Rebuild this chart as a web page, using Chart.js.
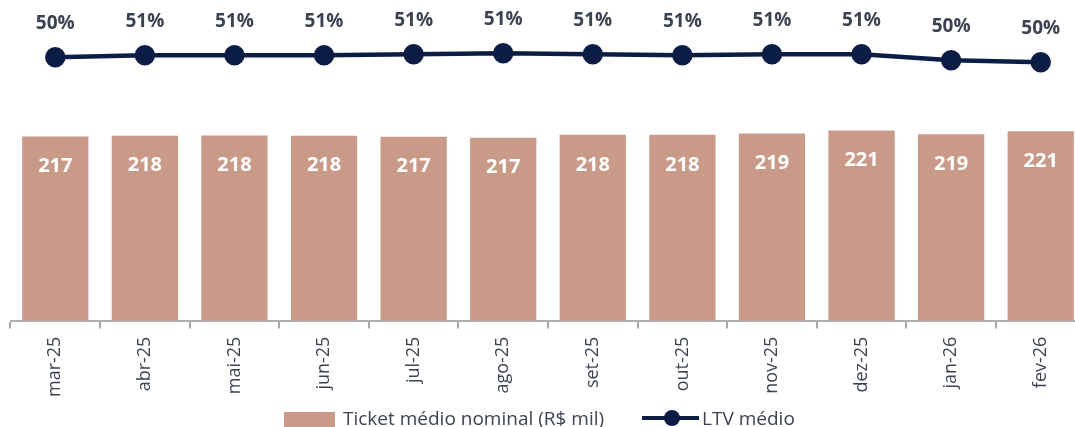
<!DOCTYPE html>
<html>
<head>
<meta charset="utf-8">
<script src="https://cdn.jsdelivr.net/npm/chart.js@4.4.1/dist/chart.umd.min.js"></script>
<style>
  html, body { margin: 0; padding: 0; background: #fff; overflow: hidden; }
  #wrap { position: relative; width: 1075px; height: 427px; overflow: hidden; }
  #myChart { display: block; margin-left: -2px; }
  #legenda {
    position: absolute; left: 284px; top: 406px; height: 24px;
    display: flex; align-items: center;
    font-family: "Open Sans", sans-serif; font-size: 19px; color: #3b4252;
    white-space: nowrap;
  }
  .caixa { width: 51px; height: 16px; background: #ca9a89; margin-right: 8px; margin-top: 4px; }
  .traco { position: relative; width: 57px; height: 4.5px; background: #0c1d45; margin-left: 38px; margin-right: 3px; }
  .traco::after {
    content: ''; position: absolute; left: 22px; top: -5.75px;
    width: 16px; height: 16px; border-radius: 50%; background: #0c1d45;
  }
</style>
</head>
<body>
<div id="wrap">
  <canvas id="myChart" width="1100" height="427"></canvas>
  <div id="legenda">
    <span class="caixa"></span><span id="leg0"></span>
    <span class="traco"></span><span id="leg1"></span>
  </div>
</div>
<script>
// dados do gráfico
const meses = ['mar-25', 'abr-25', 'mai-25', 'jun-25', 'jul-25', 'ago-25', 'set-25', 'out-25', 'nov-25', 'dez-25', 'jan-26', 'fev-26'];
const ticketMedio = [217.4, 217.8, 218.0, 217.8, 217.2, 216.6, 218.4, 218.4, 219.3, 221.2, 218.8, 220.8];
const ltvMedio = [50.4, 50.6, 50.6, 50.6, 50.7, 50.8, 50.7, 50.6, 50.7, 50.7, 50.1, 49.9];

const corBarra = '#ca9a89';
const corLinha = '#0c1d45';
const corTexto = '#3b4252';

// rótulos de valor
const rotulos = {
    id: 'rotulos',
    afterDatasetsDraw(chart) {
        const ctx = chart.ctx;
        ctx.save();
        ctx.textAlign = 'center';
        ctx.textBaseline = 'middle';
        chart.getDatasetMeta(0).data.forEach((bar, i) => {
            ctx.fillStyle = '#ffffff';
            ctx.font = 'bold 20px "Open Sans"';
            ctx.fillText(Math.round(ticketMedio[i]), bar.x, bar.y + 30);
        });
        chart.getDatasetMeta(1).data.forEach((pt, i) => {
            ctx.fillStyle = corTexto;
            ctx.font = 'bold 19px "Open Sans"';
            ctx.fillText(Math.round(ltvMedio[i]) + '%', pt.x, pt.y - 34);
        });
        ctx.restore();
    }
};

const ctx = document.getElementById('myChart').getContext('2d');
const chart = new Chart(ctx, {
    type: 'bar',
    data: {
        labels: meses,
        datasets: [
            {
                type: 'bar',
                label: 'Ticket médio nominal (R$ mil)',
                data: ticketMedio,
                backgroundColor: corBarra,
                barPercentage: 0.74,
                categoryPercentage: 1,
                yAxisID: 'y',
                order: 2
            },
            {
                type: 'line',
                label: 'LTV médio',
                data: ltvMedio,
                borderColor: corLinha,
                backgroundColor: corLinha,
                borderWidth: 4.5,
                pointRadius: 8,
                pointHoverRadius: 8,
                tension: 0,
                yAxisID: 'y2',
                order: 1
            }
        ]
    },
    options: {
        responsive: false,
        animation: false,
        layout: { padding: { top: 40, left: 9, right: 0, bottom: 22 } },
        plugins: {
            tooltip: { enabled: false },
            legend: { display: false }
        },
        scales: {
            x: {
                offset: true,
                grid: {
                    offset: true,
                    drawOnChartArea: false,
                    drawTicks: true,
                    tickLength: 8,
                    color: '#a8a8a8',
                    lineWidth: 2
                },
                border: { display: true, color: '#b0b0b0', width: 2 },
                ticks: {
                    minRotation: 90,
                    maxRotation: 90,
                    color: corTexto,
                    font: { family: '"Open Sans"', size: 18 },
                    padding: 8
                }
            },
            y: { display: false, min: 98, max: 279.9 },
            y2: { display: false, min: 23.93, max: 52.13 }
        }
    },
    plugins: [rotulos]
});

// legenda em HTML com os nomes das séries
document.getElementById('leg0').textContent = chart.data.datasets[0].label;
document.getElementById('leg1').textContent = chart.data.datasets[1].label;
</script>
</body>
</html>
